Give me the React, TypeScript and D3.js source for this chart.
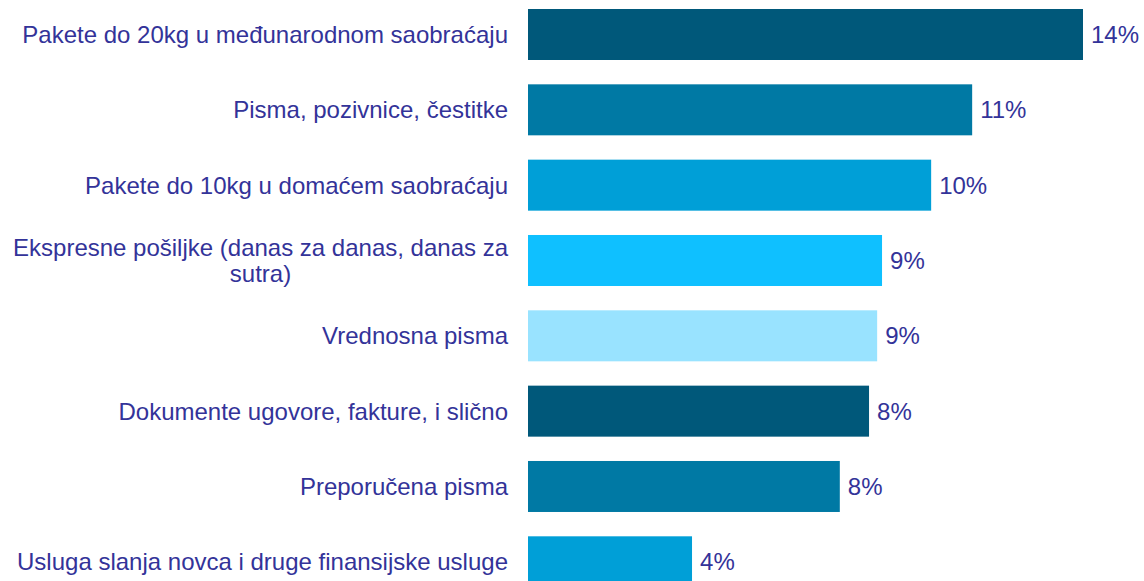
import React from "react";
import * as d3 from "d3";

const categories = [
  "Pakete do 20kg u međunarodnom saobraćaju",
  "Pisma, pozivnice, čestitke",
  "Pakete do 10kg u domaćem saobraćaju",
  "Ekspresne pošiljke (danas za danas, danas za sutra)",
  "Vrednosna pisma",
  "Dokumente ugovore, fakture, i slično",
  "Preporučena pisma",
  "Usluga slanja novca i druge finansijske usluge",
];
const values = [13.67, 10.94, 9.93, 8.72, 8.6, 8.4, 7.68, 4.04];
const palette = ["#00587A", "#0079A4", "#009FD7", "#0FC0FF", "#99E3FF"];

const W = 1144;
const H = 581;
const FS = 24;
const FONT = `${FS}px 'Liberation Sans', Arial, sans-serif`;
const TEXT = "#333399";

let ctx: CanvasRenderingContext2D | null = null;
function measure(s: string): number {
  if (!ctx) ctx = document.createElement("canvas").getContext("2d");
  if (!ctx) return s.length * 11.5;
  ctx.font = FONT;
  return ctx.measureText(s).width;
}

function wrap(s: string, maxW: number): string[] {
  const words = s.split(" ");
  const lines: string[] = [];
  let cur = "";
  for (const w of words) {
    const t = cur ? cur + " " + w : w;
    if (cur && measure(t) > maxW) {
      lines.push(cur);
      cur = w;
    } else cur = t;
  }
  if (cur) lines.push(cur);
  return lines;
}

export default function App() {
  const x0 = 528;
  const x = d3.scaleLinear().domain([0, d3.max(values) as number]).range([x0, 1083]);
  const step = 75.33;
  const pi = 0.323;
  const top = 9 - (pi / 2) * step;
  const y = d3
    .scaleBand<string>()
    .domain(categories)
    .range([top, top + categories.length * step])
    .paddingInner(pi)
    .paddingOuter(pi / 2);
  const labelRight = 508;
  const lineH = 26;

  return (
    <svg
      width={W}
      height={H}
      style={{ position: "absolute", left: 0, top: 0, background: "#fff" }}
      fontFamily="'Liberation Sans', Arial, sans-serif"
      fontSize={FS}
    >
      {categories.map((c, i) => {
        const by = y(c) as number;
        const bh = y.bandwidth();
        const cy = by + bh / 2;
        const lines = wrap(c, 505);
        const w1 = measure(lines[0]);
        const cx = labelRight - w1 / 2;
        return (
          <g key={c}>
            <rect x={x0} y={by} width={x(values[i]) - x0} height={bh} fill={palette[i % 5]} />
            {lines.map((ln, j) => (
              <text
                key={j}
                x={lines.length > 1 ? cx : labelRight}
                y={cy + (j - (lines.length - 1) / 2) * lineH}
                dy="0.35em"
                textAnchor={lines.length > 1 ? "middle" : "end"}
                fill={TEXT}
              >
                {ln}
              </text>
            ))}
            <text x={x(values[i]) + 8} y={cy} dy="0.35em" fill={TEXT}>
              {Math.round(values[i])}%
            </text>
          </g>
        );
      })}
    </svg>
  );
}
